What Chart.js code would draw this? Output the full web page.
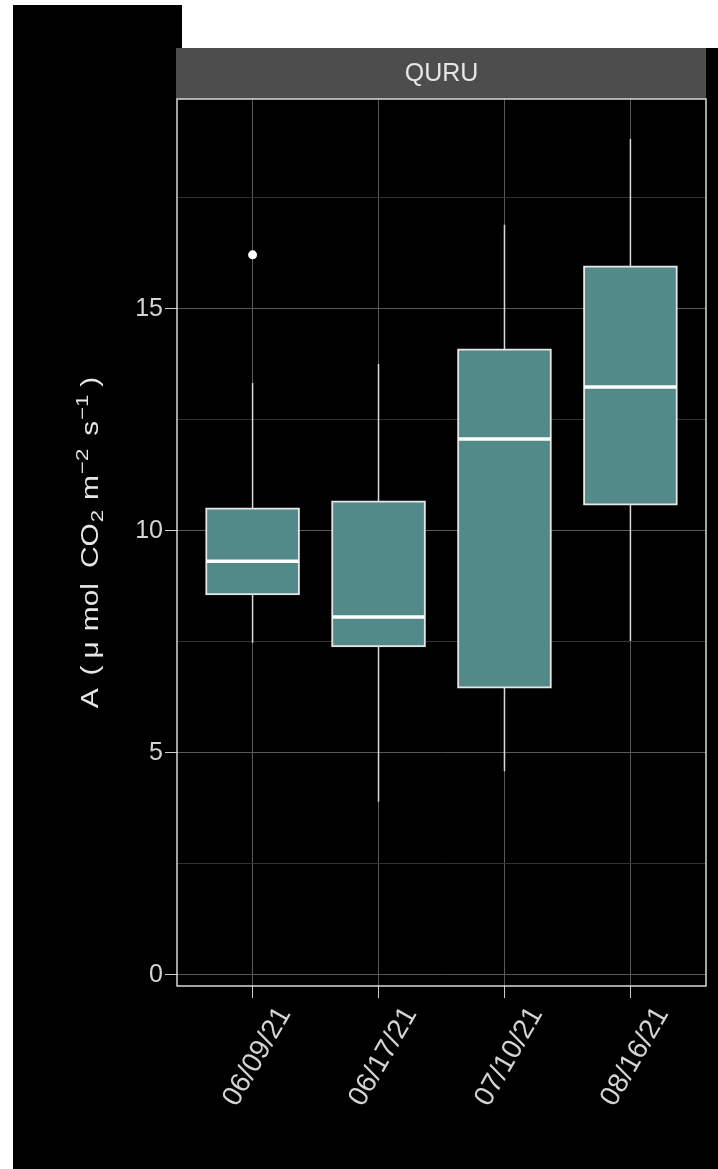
<!DOCTYPE html>
<html>
<head>
<meta charset="utf-8">
<script src="https://cdn.jsdelivr.net/npm/chart.js@4/dist/chart.umd.min.js"></script>
<style>
    html, body { margin: 0; padding: 0; background: #fff; }
    #wrap { position: relative; width: 718px; height: 1169px; overflow: hidden; }
    .bg { position: absolute; background: #000; }
    #chartBox { position: absolute; left: 0; top: 0; width: 718px; height: 1169px; }
</style>
</head>
<body>
<div id="wrap">
    <div class="bg" style="left:13px;top:5px;width:169px;height:44px"></div>
    <div class="bg" style="left:13px;top:48px;right:0;bottom:0"></div>
    <div id="chartBox"><canvas id="boxChart"></canvas></div>
</div>
<script>
// box plot values
const dates = ['06/09/21', '06/17/21', '07/10/21', '08/16/21'];
const lowWhisker = [7.48, 3.90, 4.59, 7.52];
const q1 = [8.56, 7.39, 6.46, 10.58];
const median = [9.32, 8.06, 12.07, 13.24];
const q3 = [10.52, 10.68, 14.10, 15.97];
const highWhisker = [13.33, 13.76, 16.90, 18.83];
const outlierIndex = [0];
const outlierValue = [16.22];
const yTicks = [0, 5, 10, 15];
const panelTitle = 'QURU';

// y title pieces: text, kind (0 normal, 1 sup, -1 sub), gap before
const yTitleParts = [
    ['A', 0, 0], ['(', 0, 13], ['μ', 0, 7], ['mol', 0, 10], ['CO', 0, 15],
    ['2', -1, 1], ['m', 0, 10], ['−2', 1, 1], ['s', 0, 13], ['−1', 1, 1], [')', 0, 8]
];

// whiskers: one segment per date, broken by null points
const whiskerPts = [];
dates.forEach((d, i) => {
    whiskerPts.push({ x: i, y: lowWhisker[i] }, { x: i, y: highWhisker[i] }, { x: i, y: null });
});

const fontFamily = '"Liberation Sans", Arial, sans-serif';

// strip on top of the panel, panel border, y title with sub/superscripts
const panelPlugin = {
    id: 'panel',
    beforeDraw(chart) {
        const { ctx, chartArea } = chart;
        ctx.save();
        ctx.fillStyle = '#4d4d4d';
        ctx.fillRect(chartArea.left - 1, 48, chartArea.right - chartArea.left + 1, chartArea.top - 48);
        ctx.fillStyle = '#e6e6e6';
        ctx.font = '25px ' + fontFamily;
        ctx.textAlign = 'center';
        ctx.textBaseline = 'middle';
        ctx.fillText(panelTitle, (chartArea.left + chartArea.right) / 2, (48 + chartArea.top) / 2 + 1);
        ctx.restore();

        // y axis title
        const stretch = 1.3;
        const mainFont = '23px ' + fontFamily;
        const smallFont = '17px ' + fontFamily;
        ctx.save();
        let total = 0;
        const widths = yTitleParts.map(p => {
            ctx.font = p[1] === 0 ? mainFont : smallFont;
            const w = ctx.measureText(p[0]).width * stretch;
            total += w + p[2];
            return w;
        });
        ctx.translate(98, (chartArea.top + chartArea.bottom) / 2);
        ctx.rotate(-Math.PI / 2);
        ctx.fillStyle = '#e6e6e6';
        ctx.textBaseline = 'alphabetic';
        ctx.textAlign = 'left';
        let pos = -total / 2;
        yTitleParts.forEach((p, i) => {
            pos += p[2];
            ctx.font = p[1] === 0 ? mainFont : smallFont;
            const shift = p[1] === 1 ? -10 : (p[1] === -1 ? 5 : 0);
            ctx.save();
            ctx.translate(pos, shift);
            ctx.scale(stretch, 1);
            ctx.fillText(p[0], 0, 0);
            ctx.restore();
            pos += widths[i];
        });
        ctx.restore();
    },
    beforeDatasetsDraw(chart) {
        const { ctx, chartArea } = chart;
        ctx.save();
        ctx.strokeStyle = '#d9d9d9';
        ctx.lineWidth = 1.5;
        ctx.strokeRect(chartArea.left, chartArea.top, chartArea.right - chartArea.left, chartArea.bottom - chartArea.top);
        ctx.restore();
    }
};

new Chart(document.getElementById('boxChart'), {
    type: 'bar',
    data: {
        datasets: [
            {
                type: 'line',
                data: whiskerPts,
                borderColor: '#d9d9d9',
                borderWidth: 1.5,
                pointRadius: 0,
                spanGaps: false,
                order: 3
            },
            {
                type: 'bar',
                data: q1.map((v, i) => ({ x: i, y: [v, q3[i]] })),
                backgroundColor: '#528989',
                borderColor: '#e6e6e6',
                borderWidth: 2,
                borderSkipped: false,
                barThickness: 94,
                order: 2
            },
            {
                type: 'line',
                data: median.map((v, i) => ({ x: i, y: v })),
                showLine: false,
                pointStyle: 'line',
                pointRadius: 46,
                pointBorderWidth: 3.5,
                pointBorderColor: '#ffffff',
                order: 1
            },
            {
                type: 'line',
                data: outlierIndex.map((x, i) => ({ x: x, y: outlierValue[i] })),
                showLine: false,
                pointRadius: 4.5,
                pointBorderWidth: 0,
                pointBackgroundColor: '#ffffff',
                order: 0
            }
        ]
    },
    options: {
        responsive: true,
        maintainAspectRatio: false,
        animation: false,
        devicePixelRatio: 1,
        layout: { autoPadding: false, padding: { top: 99, right: 12, left: 0, bottom: 0 } },
        plugins: {
            legend: { display: false },
            tooltip: { enabled: false }
        },
        scales: {
            x: {
                type: 'linear',
                min: -0.6,
                max: 3.6,
                offset: false,
                border: { display: false },
                grid: {
                    offset: false,
                    color: '#595959',
                    tickColor: '#cccccc',
                    tickLength: 12
                },
                ticks: {
                    stepSize: 1,
                    includeBounds: false,
                    autoSkip: false,
                    minRotation: 60,
                    maxRotation: 60,
                    labelOffset: 32,
                    padding: 3,
                    color: '#d4d4d4',
                    font: { family: fontFamily, size: 28 },
                    callback: v => dates[v] ?? ''
                },
                afterFit: scale => {
                    scale.height = 183;
                    scale.paddingLeft = 0;
                    scale.paddingRight = 0;
                }
            },
            y: {
                min: -0.25,
                max: 19.73,
                border: { display: false },
                grid: {
                    color: ctx => yTicks.includes(ctx.tick.value) ? '#595959' : '#333333',
                    tickColor: ctx => yTicks.includes(ctx.tick.value) ? '#cccccc' : 'rgba(0,0,0,0)',
                    tickLength: 12
                },
                ticks: {
                    stepSize: 2.5,
                    includeBounds: false,
                    padding: 2,
                    color: '#d4d4d4',
                    font: { family: fontFamily, size: 25 },
                    callback: v => yTicks.includes(v) ? v : ''
                },
                title: { display: false },
                afterFit: scale => {
                    scale.width = 177;
                    scale.paddingTop = 0;
                    scale.paddingBottom = 0;
                }
            }
        }
    },
    plugins: [panelPlugin]
});
</script>
</body>
</html>
